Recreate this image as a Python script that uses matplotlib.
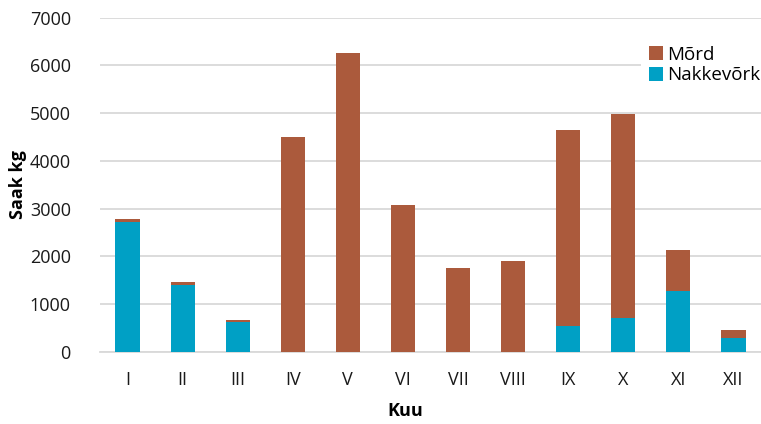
import matplotlib.pyplot as plt
import numpy as np

plt.rcParams['font.family'] = ['Open Sans', 'DejaVu Sans']

months = ['I', 'II', 'III', 'IV', 'V', 'VI', 'VII', 'VIII', 'IX', 'X', 'XI', 'XII']
nakkevork = [2720, 1410, 630, 0, 0, 0, 0, 0, 550, 720, 1280, 295]
mord = [60, 55, 45, 4500, 6250, 3070, 1760, 1910, 4090, 4260, 850, 160]

c_mord = '#AB5A3C'
c_nakk = '#00A0C5'
grid_c = '#D9D9D9'

fig = plt.figure(figsize=(7.61, 4.24), dpi=100)
ax = fig.add_axes([100 / 761, 1 - 352 / 424, 661 / 761, (352 - 17.5) / 424])

x = np.arange(len(months))
b1 = ax.bar(x, nakkevork, width=0.44, color=c_nakk, zorder=3)
b2 = ax.bar(x, mord, width=0.44, bottom=nakkevork, color=c_mord, zorder=3)

ax.set_xlim(-0.5, len(months) - 0.5)
ax.set_ylim(0, 7000)
ax.set_yticks(range(0, 7001, 1000))
ax.set_xticks(x)
ax.set_xticklabels(months)
ax.yaxis.grid(True, color=grid_c, linewidth=1.3, zorder=0)
ax.tick_params(length=0, labelsize=13, colors='#1a1a1a')
ax.tick_params(axis='x', pad=14)
ax.tick_params(axis='y', pad=21)
for s in ['top', 'right', 'left']:
    ax.spines[s].set_visible(False)
ax.spines['bottom'].set_color(grid_c)
ax.spines['bottom'].set_linewidth(1.3)

ax.set_ylabel('Saak kg', fontsize=13, fontweight='bold')
ax.yaxis.set_label_coords(-73 / 661, 0.5)
ax.set_xlabel('Kuu', fontsize=13, fontweight='bold')
ax.xaxis.set_label_coords((405 - 100) / 661, -50 / 334.5)

leg = ax.legend([b2, b1], ['Mõrd', 'Nakkevõrk'], loc='upper left',
                bbox_to_anchor=(641 / 761, 1 - 38 / 424), bbox_transform=fig.transFigure,
                fontsize=13.5, frameon=True, handlelength=0.75, handleheight=0.75,
                handletextpad=0.25, labelspacing=0.15, borderpad=0.4, borderaxespad=0)
leg.get_frame().set_facecolor('white')
leg.get_frame().set_edgecolor('none')
leg.get_frame().set_alpha(1)

fig.savefig('out.png', dpi=100)
